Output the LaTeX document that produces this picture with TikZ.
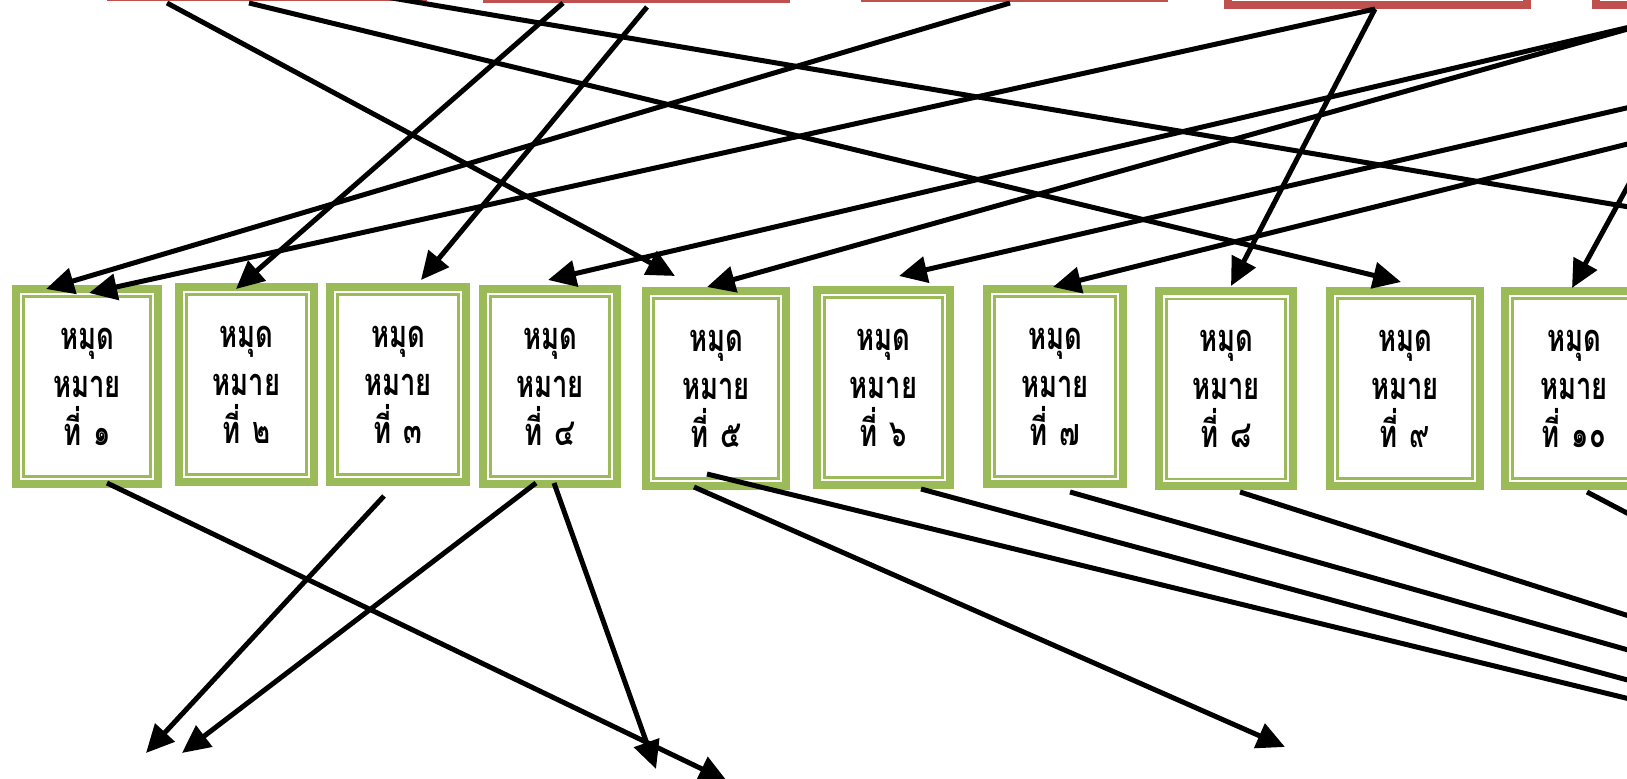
\documentclass[tikz,border=0pt]{standalone}
\usepackage{fontspec}
\newfontfamily\thaifont[Script=Thai,FakeStretch=0.72]{Loma}
\usetikzlibrary{arrows.meta}
\definecolor{gboxc}{HTML}{9BBB59}
\definecolor{rboxc}{HTML}{C0504D}
\newcommand\tsp{\hspace{6pt}}
\begin{document}
\begin{tikzpicture}[x=0.5pt,y=-0.5pt,
  gb/.style={draw=gboxc, line width=4pt, fill=white, rectangle, inner sep=0pt, outer sep=0pt,
    minimum height=97.5pt, align=center,
    font=\thaifont\bfseries\fontsize{19}{24}\selectfont,
    path picture={\draw[gboxc, line width=1.15pt]
      ([xshift=3.8pt,yshift=-3.8pt]path picture bounding box.north west) rectangle
      ([xshift=-3.8pt,yshift=3.8pt]path picture bounding box.south east);}},
  rb/.style={draw=rboxc, line width=4pt, fill=white, rectangle, inner sep=0pt, outer sep=0pt,
    minimum width=149.5pt, minimum height=60pt, anchor=south},
  conn/.style={line width=2.5pt, -{Triangle[length=14pt,width=13pt]}}]
\useasboundingbox (0,0) rectangle (1627,779);
\clip (0,0) rectangle (1627,779);

% red source boxes (mostly above the frame)
\node[rb, minimum width=156pt] (ra) at (267,-3) {};
\node[rb] (rbb) at (636.5,-1) {};
\node[rb] (rc) at (1014.5,-2) {};
\node[rb] (rd) at (1377.5,5) {};
\node[rb] (re) at (1745,5) {};

% green boxes
\node[gb, minimum width=71pt]   (b1)  at (87,386.5)   {หมุด\\หมาย\\ที่\tsp ๑};
\node[gb, minimum width=67.5pt] (b2)  at (246.5,384.5) {หมุด\\หมาย\\ที่\tsp ๒};
\node[gb, minimum width=68pt]   (b3)  at (398,384.5)  {หมุด\\หมาย\\ที่\tsp ๓};
\node[gb, minimum width=67pt]   (b4)  at (550,386.5)  {หมุด\\หมาย\\ที่\tsp ๔};
\node[gb, minimum width=70pt]   (b5)  at (716,388.5)  {หมุด\\หมาย\\ที่\tsp ๕};
\node[gb, minimum width=66.5pt] (b6)  at (883.5,387.5) {หมุด\\หมาย\\ที่\tsp ๖};
\node[gb, minimum width=68pt]   (b7)  at (1055,386.5) {หมุด\\หมาย\\ที่\tsp ๗};
\node[gb, minimum width=67pt]   (b8)  at (1226,389)   {หมุด\\หมาย\\ที่\tsp ๘};
\node[gb, minimum width=75pt]   (b9)  at (1405,388.5) {หมุด\\หมาย\\ที่\tsp ๙};
\node[gb, minimum width=69pt]   (b10) at (1574,388.5) {หมุด\\หมาย\\ที่\tsp ๑๐};

% connector end points
\coordinate (s1) at (167,3);    \coordinate (e1) at (675,276);
\coordinate (s2) at (249,3);    \coordinate (e2) at (1401,282);
\coordinate (s3) at (380,-4);   \coordinate (e3) at (1700,219);
\coordinate (s4) at (563,3);    \coordinate (e4) at (236,289);
\coordinate (s5) at (647,7);    \coordinate (e5) at (421,280);
\coordinate (s6) at (1010,3);   \coordinate (e6) at (46,289);
\coordinate (s7) at (1375,9);   \coordinate (e7) at (1231,286);
\coordinate (e8) at (89,293);
\coordinate (s9) at (1660,20);  \coordinate (e9) at (548,280);
\coordinate (e10) at (707,287);
\coordinate (s11) at (1700,91); \coordinate (e11) at (899,276);
\coordinate (s12) at (1700,126);\coordinate (e12) at (1053,287);
\coordinate (s13) at (1664,120);\coordinate (e13) at (1572,288);

\coordinate (u1) at (107,483);  \coordinate (v1) at (727,781);
\coordinate (u2) at (384,496);  \coordinate (v2) at (146,753);
\coordinate (u3) at (536,483);  \coordinate (v3) at (182,753);
\coordinate (u4) at (554,483);  \coordinate (v4) at (656,769);
\coordinate (u5) at (694,487);  \coordinate (v5) at (1285,747);
\coordinate (u6) at (707,474);  \coordinate (v6) at (1720,721);
\coordinate (u7) at (921,489);  \coordinate (v7) at (1720,705);
\coordinate (u8) at (1070,492); \coordinate (v8) at (1720,676);
\coordinate (u9) at (1240,492); \coordinate (v9) at (1720,645);
\coordinate (u10) at (1587,492);\coordinate (v10) at (1720,562);

% connectors from the source boxes
\draw[conn] (s1) -- (e1);
\draw[conn] (s2) -- (e2);
\draw[conn] (s3) -- (e3);
\draw[conn] (s4) -- (e4);
\draw[conn] (s5) -- (e5);
\draw[conn] (s6) -- (e6);
\draw[conn] (s7) -- (e7);
\draw[conn] (s7) -- (e8);
\draw[conn] (s9) -- (e9);
\draw[conn] (s9) -- (e10);
\draw[conn] (s11) -- (e11);
\draw[conn] (s12) -- (e12);
\draw[conn] (s13) -- (e13);

% connectors below the boxes
\draw[conn] (u1) -- (v1);
\draw[conn] (u2) -- (v2);
\draw[conn] (u3) -- (v3);
\draw[conn] (u4) -- (v4);
\draw[conn] (u5) -- (v5);
\draw[conn] (u6) -- (v6);
\draw[conn] (u7) -- (v7);
\draw[conn] (u8) -- (v8);
\draw[conn] (u9) -- (v9);
\draw[conn] (u10) -- (v10);
\end{tikzpicture}
\end{document}
